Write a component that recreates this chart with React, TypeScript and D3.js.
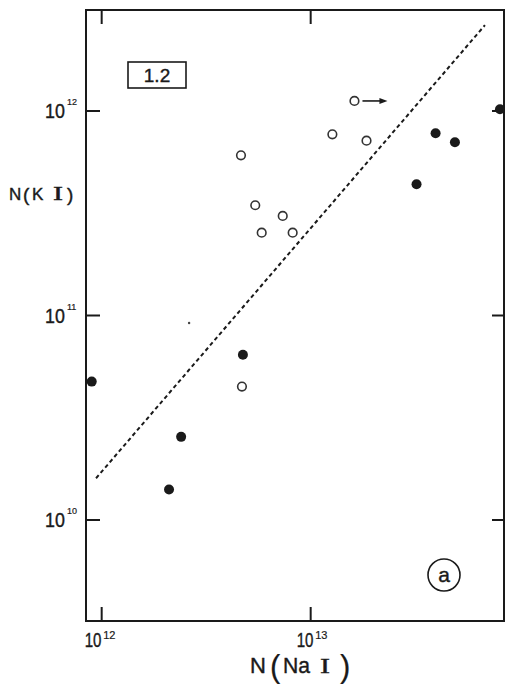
import React from "react";
import * as d3 from "d3";

// Filled circles: [N(NaI), N(KI)]
const filledX = [8.96e11, 2.1e12, 2.4e12, 4.74e12, 3.21e13, 3.96e13, 4.9e13, 8.05e13];
const filledY = [4.75e10, 1.41e10, 2.55e10, 6.43e10, 4.38e11, 7.78e11, 7.03e11, 1.02e12];
// Open circles
const openX = [4.64e12, 5.43e12, 5.83e12, 7.35e12, 8.2e12, 1.27e13, 1.62e13, 1.85e13, 4.69e12];
const openY = [6.07e11, 3.46e11, 2.54e11, 3.07e11, 2.54e11, 7.69e11, 1.12e12, 7.16e11, 4.49e10];
// Lower limit arrow attached to this open point (index)
const arrowIndex = [6];
// Dashed line endpoints
const lineX = [9.4e11, 6.82e13];
const lineY = [1.6e10, 2.63e12];
// Ticks
const xTicks = [1e12, 1e13];
const xTickExp = ["12", "13"];
const yTicks = [1e12, 1e11, 1e10];
const yTickExp = ["12", "11", "10"];
const speckX = [2.62e12];
const speckY = [9.19e10];

const W = 505, H = 686;
const L = 86, R = 504, T = 10, B = 621;

export default function App() {
  const x = d3.scaleLog().domain([Math.pow(10, 11.925), Math.pow(10, 13.925)]).range([L, R]);
  const y = d3.scaleLog().domain([Math.pow(10, 9.506), Math.pow(10, 12.494)]).range([B, T]);
  const font = "'Liberation Sans', Arial, sans-serif";
  const serif = "'Liberation Serif', 'Times New Roman', serif";
  const ink = "#1a1a1a";
  const linePath = d3.line<number>().x((d, i) => x(lineX[i])).y((d, i) => y(lineY[i]))(lineX);
  const txt = { fill: ink, stroke: ink, strokeWidth: 0.4 } as const;

  return (
    <svg width={W} height={H} style={{ position: "absolute", left: 0, top: 0, background: "#fff" }} fontFamily={font}>
      {/* frame */}
      <rect x={L} y={T} width={R - L} height={B - T} fill="none" stroke={ink} strokeWidth={2} />
      {/* x ticks bottom & top */}
      {xTicks.map((t, i) => (
        <g key={"xt" + i}>
          <line x1={x(t)} x2={x(t)} y1={B} y2={B - 14} stroke={ink} strokeWidth={2} />
          <line x1={x(t)} x2={x(t)} y1={T} y2={T + 14} stroke={ink} strokeWidth={2} />
          <g transform={`translate(${x(t) - 17 + i * 3},${B + 26}) scale(0.72,1)`}>
            <text x={0} y={0} fontSize={21} {...txt}>10</text>
          </g>
          <text x={x(t) + 1.5 + i * 3} y={B + 18} fontSize={11} {...txt} strokeWidth={0.2}>{xTickExp[i]}</text>
        </g>
      ))}
      {/* y ticks left & right */}
      {yTicks.map((t, i) => (
        <g key={"yt" + i}>
          <line x1={L} x2={L + 14} y1={y(t)} y2={y(t)} stroke={ink} strokeWidth={2} />
          <line x1={R} x2={R - 12} y1={y(t)} y2={y(t)} stroke={ink} strokeWidth={2} />
          <g transform={`translate(45,${y(t) + 7}) scale(0.85,1)`}>
            <text x={0} y={0} fontSize={21} {...txt}>10</text>
          </g>
          <text x={67} y={y(t) - 6} fontSize={9} {...txt} strokeWidth={0.2}>{yTickExp[i]}</text>
        </g>
      ))}
      {/* axis labels */}
      <g {...txt}>
        <text x={9} y={200} fontSize={17}>N</text>
        <text x={23} y={201} fontSize={19} fontWeight={300}>(</text>
        <text x={32} y={200} fontSize={17}>K</text>
        <text x={53} y={200} fontSize={18} fontFamily={serif} textLength={10} lengthAdjust="spacingAndGlyphs">I</text>
        <text x={67} y={201} fontSize={19} fontWeight={300}>)</text>
      </g>
      <g {...txt}>
        <text x={250} y={673} fontSize={22}>N</text>
        <text x={270} y={677} fontSize={31} strokeWidth={0.2}>(</text>
        <text x={283} y={673} fontSize={22} textLength={27} lengthAdjust="spacingAndGlyphs">Na</text>
        <text x={320} y={673} fontSize={22} fontFamily={serif} textLength={10} lengthAdjust="spacingAndGlyphs">I</text>
        <text x={340} y={677} fontSize={31} strokeWidth={0.2}>)</text>
      </g>
      {/* dashed fit line */}
      <path d={linePath || ""} fill="none" stroke={ink} strokeWidth={2} strokeDasharray="4,3" />
      {/* filled points */}
      {filledX.map((v, i) => (
        <circle key={"f" + i} cx={x(v)} cy={y(filledY[i])} r={5} fill={ink} />
      ))}
      {/* open points */}
      {openX.map((v, i) => (
        <circle key={"o" + i} cx={x(v)} cy={y(openY[i])} r={4.3} fill="#fff" stroke="#333" strokeWidth={1.6} />
      ))}
      {/* arrows */}
      {arrowIndex.map((k) => {
        const cx = x(openX[k]), cy = y(openY[k]);
        return (
          <g key={"a" + k}>
            <line x1={cx + 8} x2={cx + 28} y1={cy} y2={cy} stroke={ink} strokeWidth={1.6} />
            <path d={`M${cx + 33},${cy} L${cx + 25},${cy - 3} L${cx + 25},${cy + 3} Z`} fill={ink} />
          </g>
        );
      })}
      {/* speck */}
      {speckX.map((v, i) => (
        <circle key={"s" + i} cx={x(v)} cy={y(speckY[i])} r={1.2} fill="#444" />
      ))}
      {/* boxed label */}
      <rect x={128} y={62} width={58} height={26} fill="none" stroke={ink} strokeWidth={1.6} />
      <text x={157} y={82} fontSize={19} textAnchor="middle" {...txt}>1.2</text>
      {/* circled a */}
      <circle cx={444} cy={575} r={16} fill="none" stroke={ink} strokeWidth={1.6} />
      <text x={444} y={582} fontSize={21} textAnchor="middle" {...txt}>a</text>
    </svg>
  );
}
